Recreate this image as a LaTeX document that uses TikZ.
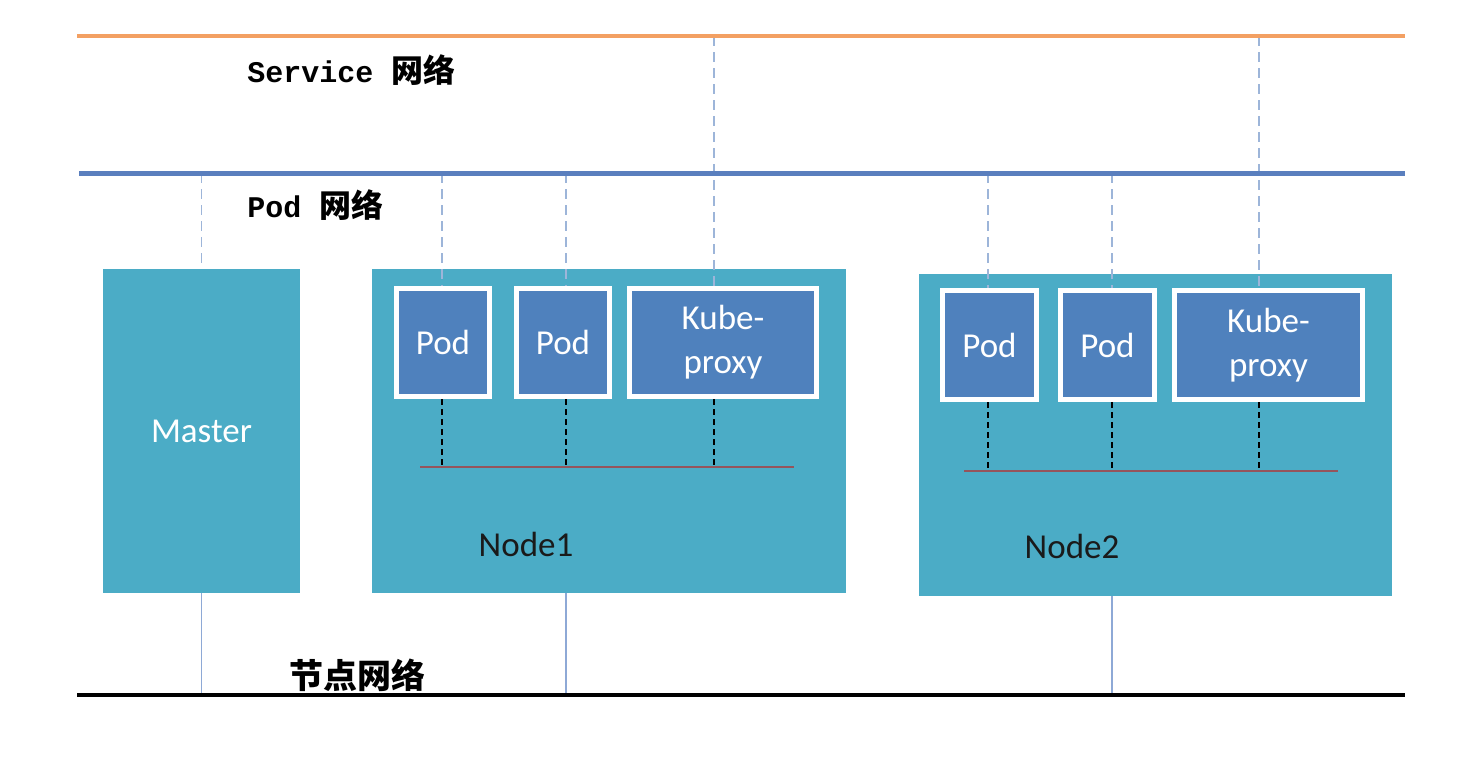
\documentclass[tikz,border=0pt]{standalone}
\usepackage{fontspec}
\setmainfont{Carlito}
\newfontfamily\cjk{Noto Sans CJK SC}
\newfontfamily\mono{Liberation Mono}
\usetikzlibrary{shadows,calc}
\definecolor{teal}{HTML}{4BACC6}
\definecolor{podblue}{HTML}{4F81BD}
\definecolor{svcorange}{HTML}{F3A063}
\definecolor{podline}{HTML}{5A7FBE}
\definecolor{lightdash}{HTML}{9DB5D9}
\definecolor{lightsolid}{HTML}{8EA9D6}
\definecolor{busred}{HTML}{95545C}
\definecolor{darktext}{HTML}{1A1A1A}
\tikzset{
  hostbox/.style={fill=teal, draw=none, inner sep=0pt, text=white, font=\fontsize{17.5}{21}\selectfont},
  podbox/.style={fill=podblue, draw=white, line width=2.5pt, inner sep=0pt, text=white,
     font=\fontsize{17.5}{22}\selectfont, align=center,
     drop shadow={opacity=0.25, shadow xshift=0.8pt, shadow yshift=-0.8pt}},
  nodelabel/.style={text=darktext, font=\fontsize{17.5}{21}\selectfont, inner sep=0pt},
  netlabel/.style={anchor=west, inner sep=0pt, text=black},
  uplink/.style={draw=lightdash, line width=0.8pt, dash pattern=on 5pt off 3pt},
  downlink/.style={draw=lightsolid, line width=0.8pt},
  buslink/.style={draw=black, line width=1pt, dash pattern=on 3pt off 2pt},
  busline/.style={draw=busred, line width=1pt},
  svcnet/.style={draw=svcorange, line width=1.6pt},
  podnet/.style={draw=podline, line width=2.5pt},
  hostnet/.style={draw=black, line width=1.6pt},
}
\begin{document}
\begin{tikzpicture}[x=0.5pt, y=-0.5pt]
\path[fill=white, use as bounding box] (0,0) rectangle (1462,761);

% network lines coordinates
\coordinate (svcL) at (77,36);   \coordinate (svcR) at (1405,36);
\coordinate (podL) at (79,173);  \coordinate (podR) at (1405,173);
\coordinate (hostL) at (77,695); \coordinate (hostR) at (1405,695);

% host boxes
\node[hostbox, minimum width=98.5pt, minimum height=162pt] (master) at (201.5,431) {Master};
\node[hostbox, minimum width=237pt, minimum height=162pt] (node1) at (609,431) {};
\node[hostbox, minimum width=236.5pt, minimum height=161pt] (node2) at (1155.5,435) {};
\node[nodelabel] (n1lab) at (526,544) {Node1};
\node[nodelabel] (n2lab) at (1072,546) {Node2};

% bus taps
\coordinate (b1L) at (420,467); \coordinate (b1R) at (794,467);
\coordinate (b2L) at (964,471); \coordinate (b2R) at (1338,471);
\coordinate (t11) at (442,467); \coordinate (t12) at (566,467); \coordinate (t13) at (714,467);
\coordinate (t21) at (988,471); \coordinate (t22) at (1112,471); \coordinate (t23) at (1259,471);

% pods
\node[podbox, minimum width=46.5pt, minimum height=54pt] (p11) at (443,342.5) {Pod};
\node[podbox, minimum width=46.5pt, minimum height=54pt] (p12) at (563,342.5) {Pod};
\node[podbox, minimum width=93.5pt, minimum height=54pt] (k1) at (723,342.5) {Kube-\\proxy};
\node[podbox, minimum width=47pt, minimum height=54.5pt] (p21) at (989.5,345) {Pod};
\node[podbox, minimum width=47pt, minimum height=54.5pt] (p22) at (1107.5,345) {Pod};
\node[podbox, minimum width=94pt, minimum height=54.5pt] (k2) at (1268.5,345) {Kube-\\proxy};

% buses inside nodes
\draw[busline] (b1L) -- (b1R);
\draw[busline] (b2L) -- (b2R);
\foreach \p/\t in {p11/t11, p12/t12, k1/t13, p21/t21, p22/t22, k2/t23}
  \draw[buslink] (\p.south -| \t) -- (\t);

% dashed links to pod network
\draw[uplink] (podL -| master.north) -- (master.north);
\draw[uplink] (podL -| t11) -- (p11.north -| t11);
\draw[uplink] (podL -| t12) -- (p12.north -| t12);
\draw[uplink] (podL -| t21) -- (p21.north -| t21);
\draw[uplink] (podL -| t22) -- (p22.north -| t22);
% dashed links to service network
\draw[uplink] (svcL -| t13) -- (k1.north -| t13);
\draw[uplink] (svcL -| t23) -- (k2.north -| t23);

% solid links to host network
\draw[downlink] (master.south) -- (hostL -| master.south);
\draw[downlink] (node1.south -| t12) -- (hostL -| t12);
\draw[downlink] (node2.south -| t22) -- (hostL -| t22);

% network lines
\draw[svcnet] (svcL) -- (svcR);
\draw[podnet] (podL) -- (podR);
\draw[hostnet] (hostL) -- (hostR);

% network labels
\node[netlabel] (svclab) at (247,70) {\fontsize{15}{18}\selectfont\mono\bfseries Service {\cjk\fontsize{16}{18}\selectfont 网络}};
\node[netlabel] (podlab) at (247,205) {\fontsize{15}{18}\selectfont\mono\bfseries Pod {\cjk\fontsize{16}{18}\selectfont 网络}};
\node[netlabel] (hostlab) at (289,675) {\cjk\bfseries\fontsize{17}{20}\selectfont 节点网络};
\end{tikzpicture}
\end{document}
